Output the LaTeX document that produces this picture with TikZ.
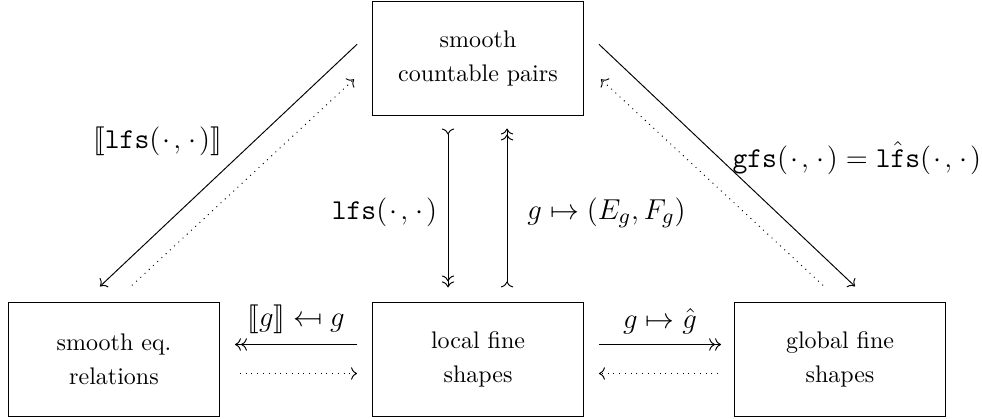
\documentclass[tikz,border=0pt]{standalone}
\usepackage{amsmath, amssymb}
\usepackage{stmaryrd}
\usetikzlibrary{arrows.meta}

\newcommand{\argpair}{(\mkern1.6mu\cdot\mkern1.6mu,\mkern1.6mu\cdot\mkern1.6mu)}

\tikzset{
    box/.style={draw, minimum width=87.9pt, minimum height=47.2pt, align=center, inner sep=0pt},
    lbl/.style={font=\fontsize{12.9}{15}\selectfont},
    >={Computer Modern Rightarrow},
}

\begin{document}
\begin{tikzpicture}[x=0.4167pt, y=-0.4167pt]
    \useasboundingbox (0,0) rectangle (982,418);

    % --- Boxes ---
    \node[box] (top) at (478,58.4) {smooth\\[2.2pt]countable pairs};
    \node[box] (eqrel) at (114,359.5) {smooth eq.\\[2.2pt]relations};
    \node[box] (local) at (478,359.5) {local fine\\[2.2pt]shapes};
    \node[box] (global) at (840,359.5) {global fine\\[2.2pt]shapes};

    % --- Top <-> local (vertical pair) ---
    \draw[>->>] ([shift={(-30,13)}]top.south) -- node[lbl, pos=0.53, left=1pt] (lfslbl) {$\mathtt{lfs}\argpair$} ([shift={(-30,-15)}]local.north);
    \draw[>->>] ([shift={(29,-15)}]local.north) -- node[lbl, pos=0.47, right=5pt] (eflbl) {$g\mapsto(E_g,F_g)$} ([shift={(29,13)}]top.south);

    % --- Top <-> eq. relations (left diagonal) ---
    \draw[->] ([shift={(-15,43)}]top.north west) -- node[lbl, pos=0.4, left=10pt] (brlbl) {$\llbracket\mathtt{lfs}\argpair\rrbracket$} ([shift={(-14,-16)}]eqrel.north);
    \draw[->, dotted] ([shift={(18,-17)}]eqrel.north) -- ([shift={(-18,78)}]top.north west);

    % --- Top <-> global (right diagonal) ---
    \draw[->] ([shift={(15,43)}]top.north east) -- node[lbl, pos=0.47, right=2pt] (gfslbl) {$\mathtt{gfs}\argpair=\hat{\mathtt{lfs}}\argpair$} ([shift={(15,-16)}]global.north);
    \draw[->, dotted] ([shift={(-17,-17)}]global.north) -- ([shift={(17,78)}]top.north east);

    % --- Bottom row ---
    \draw[->>] ([shift={(-15,-15)}]local.west) -- node[lbl, above=1pt] (mflbl) {$\llbracket g\rrbracket\mapsfrom g$} ([shift={(15,-15)}]eqrel.east);
    \draw[->, dotted] ([shift={(20,14)}]eqrel.east) -- ([shift={(-15,14)}]local.west);
    \draw[->>] ([shift={(15,-15)}]local.east) -- node[lbl, above=1pt] (hatlbl) {$g\mapsto\hat{g}$} ([shift={(-13,-15)}]global.west);
    \draw[->, dotted] ([shift={(-16,14)}]global.west) -- ([shift={(15,14)}]local.east);

\end{tikzpicture}
\end{document}
